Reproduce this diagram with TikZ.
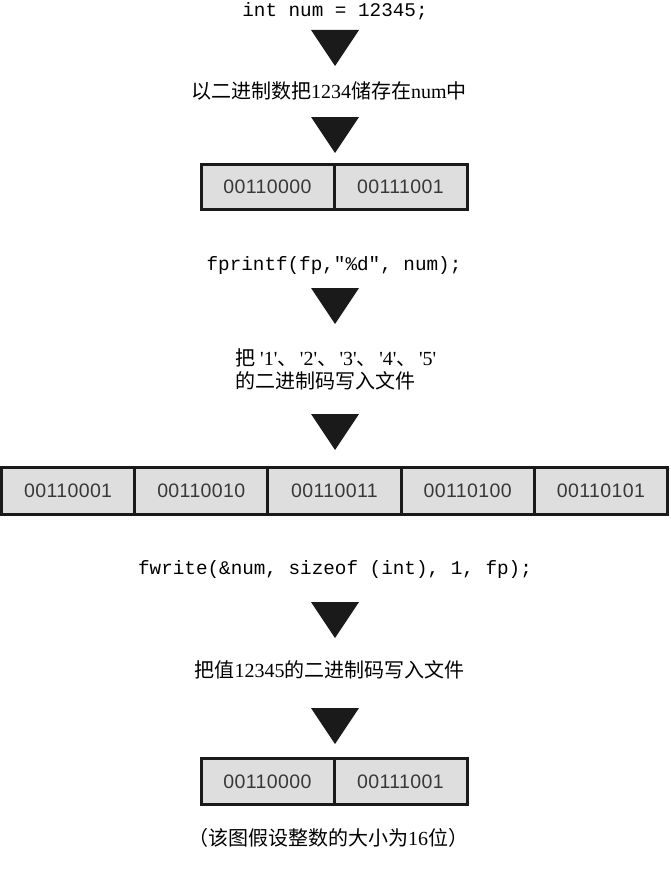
\documentclass[tikz,border=0pt]{standalone}
\usepackage{fontspec}
\setmainfont{Liberation Serif}
\setsansfont{Liberation Sans}[LetterSpace=2]
\setmonofont{Liberation Mono}
\newfontfamily\cjk{Noto Sans CJK SC}
\definecolor{ink}{HTML}{1A1A1A}
\definecolor{cellfill}{HTML}{DEDEDE}
\newcommand{\sq}{\textquotesingle}
\newcommand{\dun}{{\cjk 、}\hspace{2.5pt}}
\begin{document}
\begin{tikzpicture}[x=1pt,y=-1pt,
  code/.style={font=\ttfamily\fontsize{19.3}{22}\selectfont, inner sep=0pt, anchor=center},
  zh/.style={font=\fontsize{20}{23}\selectfont, inner sep=0pt, anchor=center},
  cell/.style={draw=ink, line width=3pt, fill=cellfill, inner sep=0pt,
    font=\sffamily\fontsize{19.5}{22}\selectfont, text=black!78,
    anchor=center},
  arrowtri/.style={fill=ink, draw=none}]
\useasboundingbox (0,0) rectangle (670,891);
\newcommand{\downtri}[1]{\fill[arrowtri] (311,#1) -- (359,#1) -- (335,#1+36) -- cycle;}

\node[code] (t1) at (335,11) {int num = 12345;};
\downtri{30}
\node[zh] (t2) at (329,91) {{\cjk 以二进制数把}1234{\cjk 储存在}num{\cjk 中}};
\downtri{117}
\node[cell, minimum width=133pt, minimum height=45pt] (a1) at (267.5,187) {00110000};
\node[cell, minimum width=133pt, minimum height=45pt] (a2) at (400.5,187) {00111001};

\node[code] (t3) at (334,266) {fprintf(fp,"\%d", num);};
\downtri{288}
\node[zh, anchor=west, align=left] (t4) at (235,369.5) {{\cjk 把} \sq1\sq\dun\sq2\sq\dun\sq3\sq\dun\sq4\sq\dun\sq5\sq\\{\cjk 的二进制码写入文件}};
\downtri{414}
\foreach \v [count=\i] in {00110001,00110010,00110011,00110100,00110101}{
  \node[cell, minimum width=133.2pt, minimum height=47pt] (b\i) at ({1.5+133.2*(\i-0.5)},491) {\v};
}

\node[code] (t5) at (335,570) {fwrite(\&num, sizeof (int), 1, fp);};
\downtri{602}
\node[zh] (t6) at (329.5,670) {{\cjk 把值}12345{\cjk 的二进制码写入文件}};
\downtri{708}
\node[cell, minimum width=133pt, minimum height=46pt] (c1) at (267.5,781.5) {00110000};
\node[cell, minimum width=133pt, minimum height=46pt] (c2) at (400.5,781.5) {00111001};
\node[zh] (t7) at (328,838) {{\cjk （该图假设整数的大小为}16{\cjk 位）}};
\end{tikzpicture}
\end{document}
